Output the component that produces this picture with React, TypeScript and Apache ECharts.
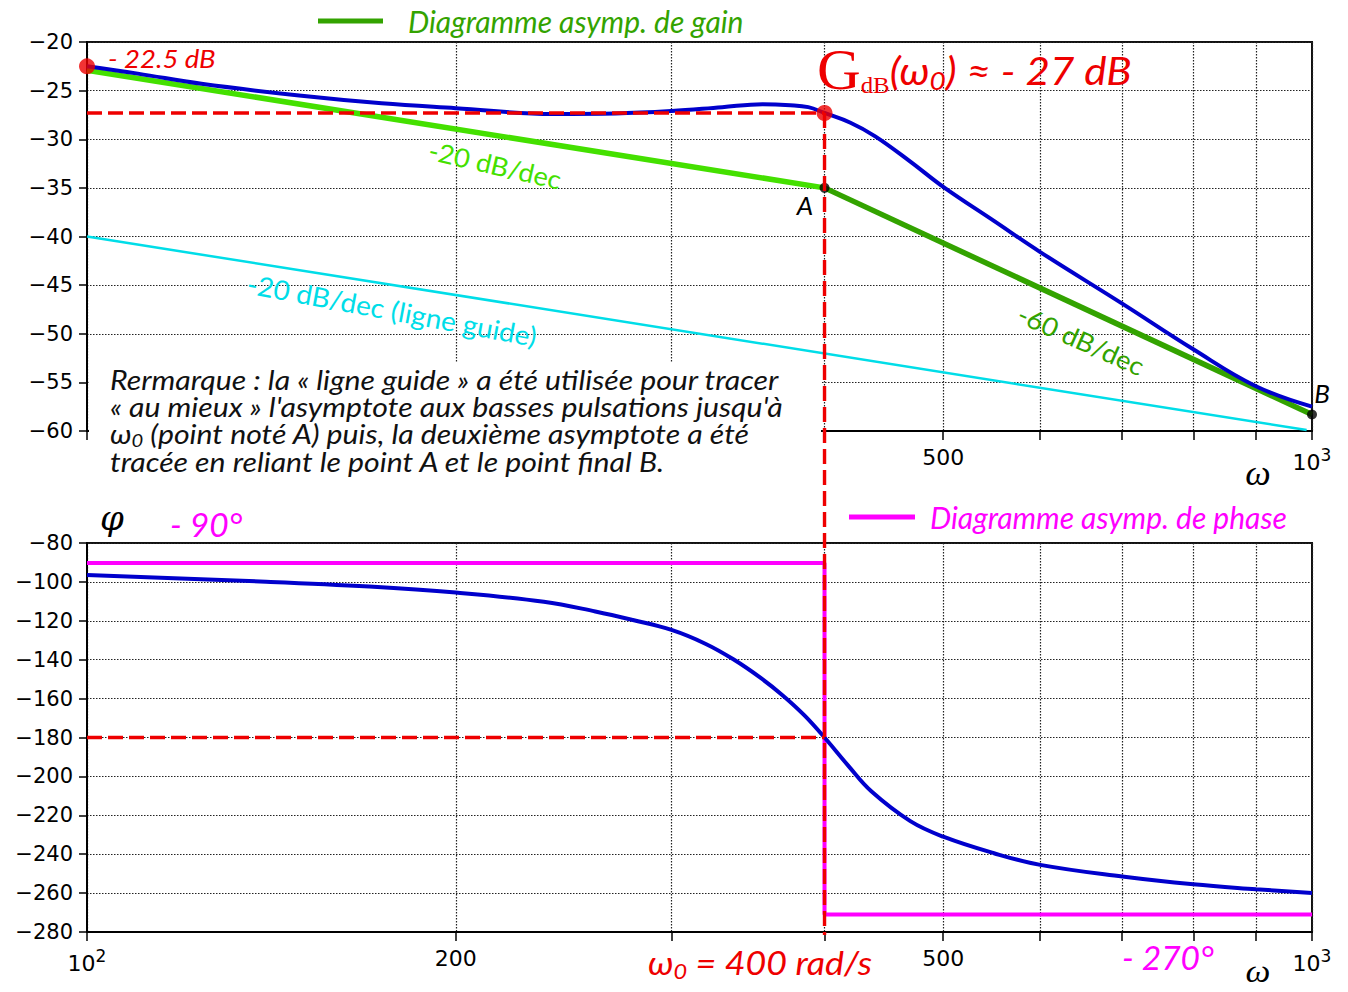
import React, { useEffect, useRef } from 'react';
import * as echarts from 'echarts';

// ---- data ----
const omegaGain = [100, 110, 124, 149, 174, 200, 240, 270, 300, 330, 356, 375, 388, 400, 420, 440, 470, 500, 550, 600, 700, 800, 900, 1000];
const gainDb = [-22.5, -23.25, -24.3, -25.5, -26.3, -26.8, -27.4, -27.35, -27.1, -26.7, -26.4, -26.5, -26.7, -27.3, -28.3, -29.7, -32.3, -34.9, -38.4, -41.6, -46.9, -51.6, -55.4, -57.5];

const omegaPhase = [100, 140, 170, 200, 236, 260, 279, 300, 320, 337, 355, 370, 385, 400, 418, 437, 470, 500, 550, 600, 700, 800, 900, 1000];
const phaseDeg = [-96.5, -99.9, -102.4, -105.5, -110.2, -115.2, -119.6, -124.7, -131.9, -139.8, -149.5, -158.5, -168.5, -180, -194.3, -207.8, -223, -231, -239.5, -245.5, -251.5, -255.5, -258, -260];

const asymLowOmega = [100, 400];
const asymLowDb = [-22.9, -35];
const asymHighOmega = [400, 1000];
const asymHighDb = [-35, -58.3];
const guideOmega = [100, 990];
const guideDb = [-40, -59.9];

const phaseAsymOmega = [100, 400, 400, 1000];
const phaseAsymDeg = [-90.3, -90.3, -271, -271];

const omega0 = 400;
const gainStart = -22.5;
const gainAtOmega0 = -27.3;
const phaseAtOmega0 = -180;
const pointA = -35;
const pointB = -58.3;

const xTickValues = [100, 200, 300, 400, 500, 600, 700, 800, 900, 1000];
const xLabelsBottom = [100, 200, 500, 1000];
const xLabelsTop = [500, 1000];

const gainMin = -60, gainMax = -20, gainStep = 5;
const phaseMin = -280, phaseMax = -80, phaseStep = 20;

const GAIN_LEGEND = 'Diagramme asymp. de gain';
const PHASE_LEGEND = 'Diagramme asymp. de phase';

// ---- styles ----
const BLUE = '#0000cc';
const LGREEN = '#44e000';
const DGREEN = '#33a300';
const CYAN = '#00dde8';
const RED = '#ee0000';
const MAGENTA = '#ff00ff';
const ANN_FONT = 'Lato, "Open Sans", sans-serif';
const TICK_FONT = '"DejaVu Sans", sans-serif';
const SERIF = '"Liberation Serif", "DejaVu Serif", serif';
const MATH = '"DejaVu Serif", serif';

const lg = (w: number) => Math.log10(w);
const pts = (xs: number[], ys: number[]) => xs.map((x, i) => [lg(x), ys[i]]);

const minus = (v: number) => (v < 0 ? '\u2212' : '') + Math.abs(v);

const xLabelFormatter = (v: number) => {
  const w = Math.round(Math.pow(10, v));
  if (w === 100) return '{b|10}{s|2}';
  if (w === 1000) return '{b|10}{s|3}';
  return '{b|' + w + '}';
};

const xRich = {
  b: { fontSize: 22, fontFamily: TICK_FONT, color: '#000', verticalAlign: 'middle' },
  s: { fontSize: 17, fontFamily: TICK_FONT, color: '#000', verticalAlign: 'middle', padding: [0, 0, 16, 0] },
};

const dotted = { color: '#222', width: 1.2, type: [1.5, 1.5] };

function xAxis(gridIndex: number, labels: number[]) {
  return {
    type: 'value',
    gridIndex,
    min: 2,
    max: 3,
    axisLine: { show: true, onZero: false, lineStyle: { color: '#000', width: 2 } },
    axisTick: { show: true, customValues: xTickValues.map(lg), length: 9, lineStyle: { color: '#000', width: 1.5 } },
    axisLabel: { customValues: labels.map(lg), formatter: xLabelFormatter, rich: xRich, margin: 15 },
    splitLine: { show: true, lineStyle: dotted },
  };
}

function yAxis(gridIndex: number, min: number, max: number, interval: number) {
  return {
    type: 'value',
    gridIndex,
    min,
    max,
    interval,
    axisLine: { show: true, onZero: false, lineStyle: { color: '#000', width: 2 } },
    axisTick: { show: true, length: 8, lineStyle: { color: '#000', width: 1.5 } },
    axisLabel: { formatter: minus, color: '#000', fontSize: 21, fontFamily: TICK_FONT, margin: 14 },
    splitLine: { show: true, lineStyle: dotted },
  };
}

function line(name: string, data: number[][], color: string, width: number, xi: number, extra: any = {}) {
  return {
    type: 'line',
    name,
    xAxisIndex: xi,
    yAxisIndex: xi,
    data,
    color,
    symbol: 'none',
    silent: true,
    lineStyle: { color, width, ...(extra.lineStyle || {}) },
    ...extra.rest,
  };
}

export default function App() {
  const ref = useRef<HTMLDivElement>(null);

  useEffect(() => {
    document.body.style.margin = '0';
    const chart = echarts.init(ref.current!, undefined, { renderer: 'svg' });

    const option: any = {
      animation: false,
      backgroundColor: '#fff',
      grid: [
        { left: 87, top: 42, width: 1225, height: 389, show: true, borderColor: '#111', borderWidth: 2, backgroundColor: 'transparent' },
        { left: 87, top: 543, width: 1225, height: 389, show: true, borderColor: '#111', borderWidth: 2, backgroundColor: 'transparent' },
      ],
      xAxis: [xAxis(0, xLabelsTop), xAxis(1, xLabelsBottom)],
      yAxis: [yAxis(0, gainMin, gainMax, gainStep), yAxis(1, phaseMin, phaseMax, phaseStep)],
      legend: [
        {
          data: [GAIN_LEGEND], left: 318, top: 6, padding: 0, icon: 'rect', itemWidth: 65, itemHeight: 5,
          textStyle: { color: DGREEN, fontStyle: 'italic', fontSize: 30, fontFamily: ANN_FONT, padding: [0, 0, 0, 20] },
        },
        {
          data: [PHASE_LEGEND], left: 849, top: 502, padding: 0, icon: 'rect', itemWidth: 66, itemHeight: 5,
          textStyle: { color: MAGENTA, fontStyle: 'italic', fontSize: 30, fontFamily: ANN_FONT, padding: [0, 0, 0, 10] },
        },
      ],
      series: [
        line('guide', pts(guideOmega, guideDb), CYAN, 2.5, 0),
        line('asymLow', pts(asymLowOmega, asymLowDb), LGREEN, 5.5, 0),
        line(GAIN_LEGEND, pts(asymHighOmega, asymHighDb), DGREEN, 5.5, 0),
        line('gain', pts(omegaGain, gainDb), BLUE, 4, 0, { rest: { smooth: 0.4 } }),
        line('gainRef', [[2, gainAtOmega0], [lg(omega0), gainAtOmega0]], RED, 3.4, 0, { lineStyle: { type: [15, 6] } }),
        {
          type: 'scatter', xAxisIndex: 0, yAxisIndex: 0, silent: true, symbolSize: 16,
          itemStyle: { color: RED },
          data: [[lg(100), gainStart], [lg(omega0), gainAtOmega0]],
          z: 5,
        },
        {
          type: 'scatter', xAxisIndex: 0, yAxisIndex: 0, silent: true, symbolSize: 10,
          itemStyle: { color: '#000' },
          data: [[lg(omega0), pointA], [lg(1000), pointB]],
          z: 5,
        },
        line(PHASE_LEGEND, pts(phaseAsymOmega, phaseAsymDeg), MAGENTA, 4, 1),
        line('phase', pts(omegaPhase, phaseDeg), BLUE, 4, 1, { rest: { smooth: 0.4 } }),
        line('phaseRef', [[2, phaseAtOmega0], [lg(omega0), phaseAtOmega0]], RED, 3.4, 1, { lineStyle: { type: [15, 6] } }),
      ],
    };
    chart.setOption(option);

    const pTop = chart.convertToPixel({ xAxisIndex: 0, yAxisIndex: 0 }, [lg(omega0), gainAtOmega0]) as number[];
    const pBot = chart.convertToPixel({ xAxisIndex: 1, yAxisIndex: 1 }, [lg(omega0), phaseMin]) as number[];

    const txt = (x: number, y: number, text: string, fill: string, fontSize: number, opts: any = {}) => ({
      type: 'text',
      x, y,
      rotation: opts.rotation || 0,
      scaleX: opts.sx || 1,
      z: 60,
      style: {
        text, fill, fontSize,
        fontFamily: opts.fontFamily || ANN_FONT,
        fontStyle: opts.fontStyle || 'italic',
        align: opts.align || 'left', textAlign: opts.align || 'left',
        verticalAlign: 'middle', textVerticalAlign: 'middle',
        rich: opts.rich,
        lineHeight: opts.lineHeight,
      },
    });

    const remark = [
      'Rermarque : la « ligne guide » a été utilisée pour tracer',
      "« au mieux » l'asymptote aux basses pulsations jusqu'à",
      'ω{sub|0} (point noté A) puis, la deuxième asymptote a été',
      'tracée en reliant le point A et le point final B.',
    ].join('\n');

    chart.setOption({
      graphic: [
        { type: 'rect', z: 50, shape: { x: 89, y: 362, width: 732, height: 122 }, style: { fill: '#fff' } },
        {
          type: 'text', x: 110, y: 366, z: 60, scaleX: 1.12,
          style: {
            text: remark, fill: '#111', fontSize: 27, fontFamily: ANN_FONT, fontStyle: 'italic',
            lineHeight: 27.2, align: 'left', verticalAlign: 'top', textAlign: 'left', textVerticalAlign: 'top',
            rich: { sub: { fontSize: 18, fontFamily: ANN_FONT, fontStyle: 'italic', fill: '#111', padding: [12, 0, 0, 0], lineHeight: 27.2, verticalAlign: 'middle' } },
          },
        },
        {
          type: 'line', z: 40,
          shape: { x1: pTop[0], y1: pTop[1], x2: pBot[0], y2: pBot[1] + 3 },
          style: { stroke: RED, lineWidth: 3.4, lineDash: [15, 6] },
        },
        txt(108, 58, '- 22.5 dB', RED, 25, { sx: 1.1 }),
        txt(817, 70, '{G|G}{d|dB}{t|(ω}{z|0}{t|) ≈ - 27 dB}', RED, 39, {
          sx: 1.08,
          rich: {
            G: { fontFamily: SERIF, fontSize: 56, fontStyle: 'normal', fill: RED, verticalAlign: 'middle' },
            d: { fontFamily: SERIF, fontSize: 23, fontStyle: 'normal', fill: RED, verticalAlign: 'middle', padding: [30, 0, 0, 0] },
            t: { fontFamily: ANN_FONT, fontSize: 39, fontStyle: 'italic', fill: RED, verticalAlign: 'middle' },
            z: { fontFamily: ANN_FONT, fontSize: 26, fontStyle: 'italic', fill: RED, verticalAlign: 'middle', padding: [20, 0, 0, 0] },
          },
        }),
        txt(805, 205, 'A', '#000', 26, { align: 'center' }),
        txt(1322, 393, 'B', '#000', 26, { align: 'center' }),
        txt(495, 165, '-20 dB/dec', LGREEN, 26, { align: 'center', fontStyle: 'normal', sx: 1.05, rotation: -13 * Math.PI / 180 }),
        txt(1081, 340, '-60 dB/dec', DGREEN, 26, { align: 'center', fontStyle: 'normal', sx: 1.05, rotation: -24 * Math.PI / 180 }),
        txt(392, 310, '-20 dB/dec (ligne guide)', CYAN, 27, { align: 'center', fontStyle: 'normal', sx: 1.04, rotation: -10.5 * Math.PI / 180 }),
        txt(112, 518, 'φ', '#000', 34, { align: 'center', fontFamily: MATH }),
        txt(170, 525, '- 90°', MAGENTA, 32, { sx: 1.05 }),
        txt(1122, 958, '- 270°', MAGENTA, 32, { sx: 1.05 }),
        txt(1258, 473, 'ω', '#000', 36, { align: 'center', fontFamily: SERIF }),
        txt(1258, 971, 'ω', '#000', 32, { align: 'center', fontFamily: SERIF, sx: 1.1 }),
        txt(648, 962, '{t|ω}{z|0}{t| = 400 rad/s}', RED, 32, {
          sx: 1.12,
          rich: {
            t: { fontFamily: ANN_FONT, fontSize: 32, fontStyle: 'italic', fill: RED, verticalAlign: 'middle' },
            z: { fontFamily: ANN_FONT, fontSize: 21, fontStyle: 'italic', fill: RED, verticalAlign: 'middle', padding: [18, 0, 0, 0] },
          },
        }),
      ],
    });

    return () => chart.dispose();
  }, []);

  return <div ref={ref} style={{ width: 1348, height: 992 }} />;
}
